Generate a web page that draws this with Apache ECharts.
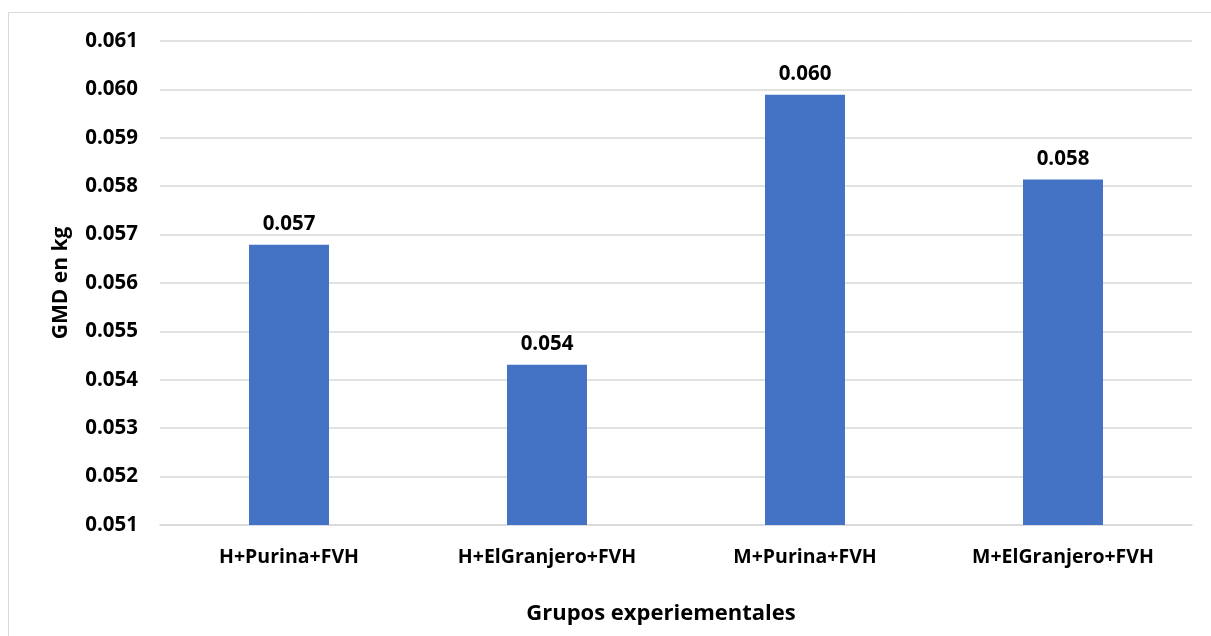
<!DOCTYPE html>
<html>
<head>
<meta charset="utf-8">
<script src="https://cdn.jsdelivr.net/npm/echarts@6/dist/echarts.min.js"></script>
<style>
  html, body { margin: 0; padding: 0; background: #fff; }
  #chart { width: 1211px; height: 636px; }
</style>
</head>
<body>
<div id="chart"></div>
<script>
const categories = ["H+Purina+FVH", "H+ElGranjero+FVH", "M+Purina+FVH", "M+ElGranjero+FVH"];
const gmdValues = [0.05679, 0.05431, 0.05989, 0.05814];
const yMin = 0.051;
const yMax = 0.061;
const yStep = 0.001;

const chart = echarts.init(document.getElementById("chart"));
const fontFamily = "'Open Sans', 'Noto Sans', sans-serif";

const option = {
  animation: false,
  graphic: [
    {
      type: "rect",
      shape: { x: 8.5, y: 12.5, width: 1220, height: 640 },
      style: { fill: "none", stroke: "#d9d9d9", lineWidth: 1 },
    },
  ],
  grid: {
    left: 160,
    right: 19,
    top: 41,
    bottom: 111,
  },
  xAxis: {
    type: "category",
    data: categories,
    axisLine: { lineStyle: { color: "#d9d9d9", width: 1.5 } },
    axisTick: { show: false },
    axisLabel: {
      color: "#000",
      fontWeight: "bold",
      fontSize: 19.5,
      fontFamily: fontFamily,
      margin: 22,
    },
    name: "Grupos experiementales",
    nameLocation: "middle",
    nameGap: 78,
    nameTextStyle: {
      color: "#000",
      fontWeight: "bold",
      fontSize: 22,
      fontFamily: fontFamily,
      padding: [0, 30, 0, 0],
    },
  },
  yAxis: {
    type: "value",
    min: yMin,
    max: yMax,
    interval: yStep,
    axisLine: { show: false },
    axisTick: { show: false },
    splitLine: { lineStyle: { color: "#d9d9d9", width: 1.5 } },
    axisLabel: {
      color: "#000",
      fontWeight: "bold",
      fontSize: 20.5,
      fontFamily: fontFamily,
      margin: 22,
      formatter: (v) => v.toFixed(3),
    },
    name: "GMD en kg",
    nameLocation: "middle",
    nameGap: 88,
    nameRotate: 90,
    nameTextStyle: {
      color: "#000",
      fontWeight: "bold",
      fontSize: 21,
      fontFamily: fontFamily,
    },
  },
  series: [
    {
      type: "bar",
      data: gmdValues,
      barWidth: "31%",
      itemStyle: { color: "#4472c4" },
      label: {
        show: true,
        position: "top",
        distance: 10,
        color: "#000",
        fontWeight: "bold",
        fontSize: 20.5,
        fontFamily: fontFamily,
        formatter: (p) => p.value.toFixed(3),
      },
    },
  ],
};

chart.setOption(option);
</script>
</body>
</html>
